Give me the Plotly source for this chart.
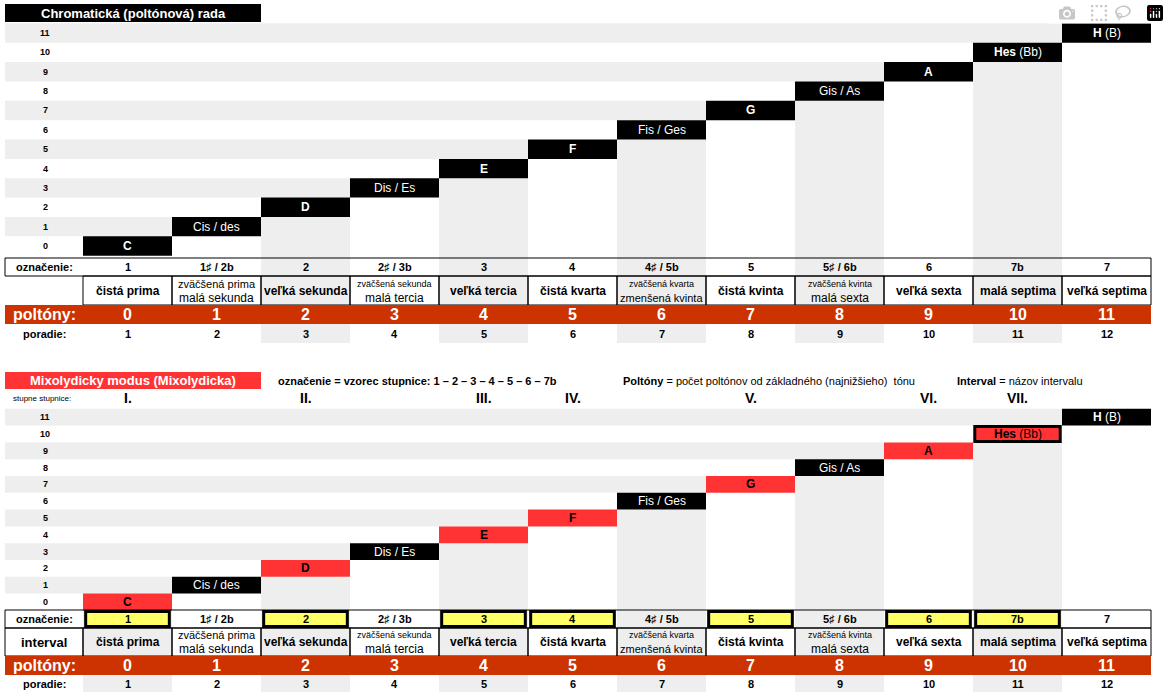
import plotly.graph_objects as go

notes = ["C", "Cis / des", "D", "Dis / Es", "E", "F", "Fis / Ges", "G", "Gis / As", "A", "Hes (Bb)", "H (B)"]
natural = [True, False, True, False, True, True, False, True, False, True, True, True]
oznacenie = ["1", "1♯ / 2b", "2", "2♯ / 3b", "3", "4", "4♯ / 5b", "5", "5♯ / 6b", "6", "7b", "7"]
intervals = [["čistá prima"], ["zväčšená prima", "malá sekunda"], ["veľká sekunda"],
             ["zväčšená sekunda", "malá tercia"], ["veľká tercia"], ["čistá kvarta"],
             ["zväčšená kvarta", "zmenšená kvinta"], ["čistá kvinta"],
             ["zväčšená kvinta", "malá sexta"], ["veľká sexta"], ["malá septima"], ["veľká septima"]]
poltony = list(range(12))
poradie = list(range(1, 13))
mixo_degrees = [0, 2, 4, 5, 7, 9, 10]
roman = ["I.", "II.", "III.", "IV.", "V.", "VI.", "VII."]

F = "Liberation Sans"
GREY = "#eeeeee"
RED = "#ff3333"
ORANGE = "#cc3300"
LX = -78 / 89.0  # left edge of label column in column units
RX = 12.0

shapes, ann = [], []


def rect(x0, x1, y0, y1, fill=None, line=None, lw=1):
    shapes.append(dict(type="rect", x0=x0, x1=x1, y0=y0, y1=y1, layer="below" if fill == GREY else "above",
                       fillcolor=fill or "rgba(0,0,0,0)",
                       line=dict(color=line or "rgba(0,0,0,0)", width=lw if line else 0)))


def text(x, y, s, size=11, color="black", bold=True, xanchor="center"):
    if bold:
        s = "<b>" + s + "</b>"
    ann.append(dict(x=x, y=y, text=s, showarrow=False, xanchor=xanchor, yanchor="middle",
                    font=dict(family=F, size=size, color=color)))


def staircase(y0row, rh, scale=None, table_bottom=None, grey_c0=False):
    def ytop(r):
        return y0row - r * rh - rh / 2

    def ybot(r):
        return y0row - r * rh + rh / 2
    for r in range(12):
        if r % 2 == 1:
            rect(LX, r, ytop(r), ybot(r), fill=GREY)
        text(LX + 0.45, y0row - r * rh, str(r), size=9)
    for c in range(12):
        if c % 2 == 0 and (c > 0 or grey_c0):
            yb = table_bottom if table_bottom else ybot(0)
            yt = ytop(c - 1) if c > 0 else ybot(0)
            rect(c, c + 1, yt, yb, fill=GREY)
    for c, n in enumerate(notes):
        inscale = scale is not None and c in scale
        fill = RED if inscale else "black"
        col = "black" if inscale else "white"
        y = y0row - c * rh
        if inscale and c == 10:
            rect(c + 0.02, c + 0.98, ytop(c) + 1, ybot(c) - 1, fill=fill, line="black", lw=3)
        else:
            rect(c, c + 1, ytop(c), ybot(c), fill=fill)
        if "(" in n:
            a, b = n.split(" ", 1)
            s = "<b>" + a + "</b> " + b
            text(c + 0.5, y, s, size=12, color=col, bold=False)
        else:
            text(c + 0.5, y, n, size=12, color=col, bold=natural[c])


def table(yo, yi, yp, yr, yend, interval_label=None, yellow=None):
    if yellow:
        for c in yellow:
            rect(c + 0.03, c + 0.97, yo + 1.5, yi - 1.5, fill="#ffff66", line="black", lw=3)
    rect(LX, RX, yo, yi, line="black", lw=1)
    for c in range(12):
        rect(c, c + 1, yi, yp, line="black", lw=1)
    if interval_label:
        rect(LX, 0, yi, yp, line="black", lw=1)
        text(LX / 2, (yi + yp) / 2, interval_label, size=13)
    rect(LX, RX, yp, yr, fill=ORANGE)
    text(LX / 2, (yo + yi) / 2, "označenie:", size=11)
    text(LX / 2, (yp + yr) / 2, "poltóny:", size=16, color="white")
    text(LX / 2, (yr + yend) / 2, "poradie:", size=11)
    for c in range(12):
        xm = c + 0.5
        text(xm, (yo + yi) / 2, oznacenie[c], size=11)
        iv = intervals[c]
        ym = (yi + yp) / 2
        if len(iv) == 1:
            text(xm, ym, iv[0], size=12)
        else:
            s1 = 11 if iv[0] == "zväčšená prima" else 9
            s2 = 11 if iv[1] == "zmenšená kvinta" else 12
            text(xm, ym - 7, iv[0], size=s1, bold=False)
            text(xm, ym + 7, iv[1], size=s2, bold=False)
        text(xm, (yp + yr) / 2, str(poltony[c]), size=16, color="white")
        text(xm, (yr + yend) / 2, str(poradie[c]), size=11)


# ---- top chart ----
rect(LX, 2, 4, 22, fill="black")
text((LX + 2) / 2, 13, "Chromatická (poltónová) rada", size=13, color="white")
staircase(246, 19.36, table_bottom=343)
table(258, 276, 305, 324, 343)

# ---- bottom chart ----
rect(LX, 2, 372, 389, fill=RED)
text((LX + 2) / 2, 380.5, "Mixolydicky modus (Mixolydicka)", size=13, color="white")
text(2.17, 380.5, "označenie = vzorec stupnice: 1 – 2 – 3 – 4 – 5 – 6 – 7b", size=11, xanchor="left")
text(6.04, 380.5, "<b>Poltóny</b> = počet poltónov od základného (najnižšieho)  tónu", size=11, bold=False, xanchor="left")
text(9.8, 380.5, "<b>Interval</b> = názov intervalu", size=11, bold=False, xanchor="left")
text(LX + 0.07, 398, "stupne stupnice:", size=8, bold=False, xanchor="left")
for d, rn in zip(mixo_degrees, roman):
    text(d + 0.5, 398, rn, size=14)
staircase(602, 16.8, scale=mixo_degrees, table_bottom=692, grey_c0=True)
table(610, 628, 656, 675, 692, interval_label="interval", yellow=mixo_degrees)

fig = go.Figure()
fig.add_trace(go.Scatter(x=[0], y=[0], mode="markers", marker=dict(opacity=0), hoverinfo="skip"))
fig.update_layout(width=1169, height=696, margin=dict(l=0, r=0, t=0, b=0),
                  paper_bgcolor="white", plot_bgcolor="white", showlegend=False,
                  shapes=shapes, annotations=ann,
                  xaxis=dict(range=[-83 / 89, (1169 - 83) / 89], visible=False, fixedrange=True),
                  yaxis=dict(range=[696, 0], visible=False, fixedrange=True))
fig.write_html("out.html", post_script="document.body.style.margin='0';document.body.style.overflow='hidden';")
